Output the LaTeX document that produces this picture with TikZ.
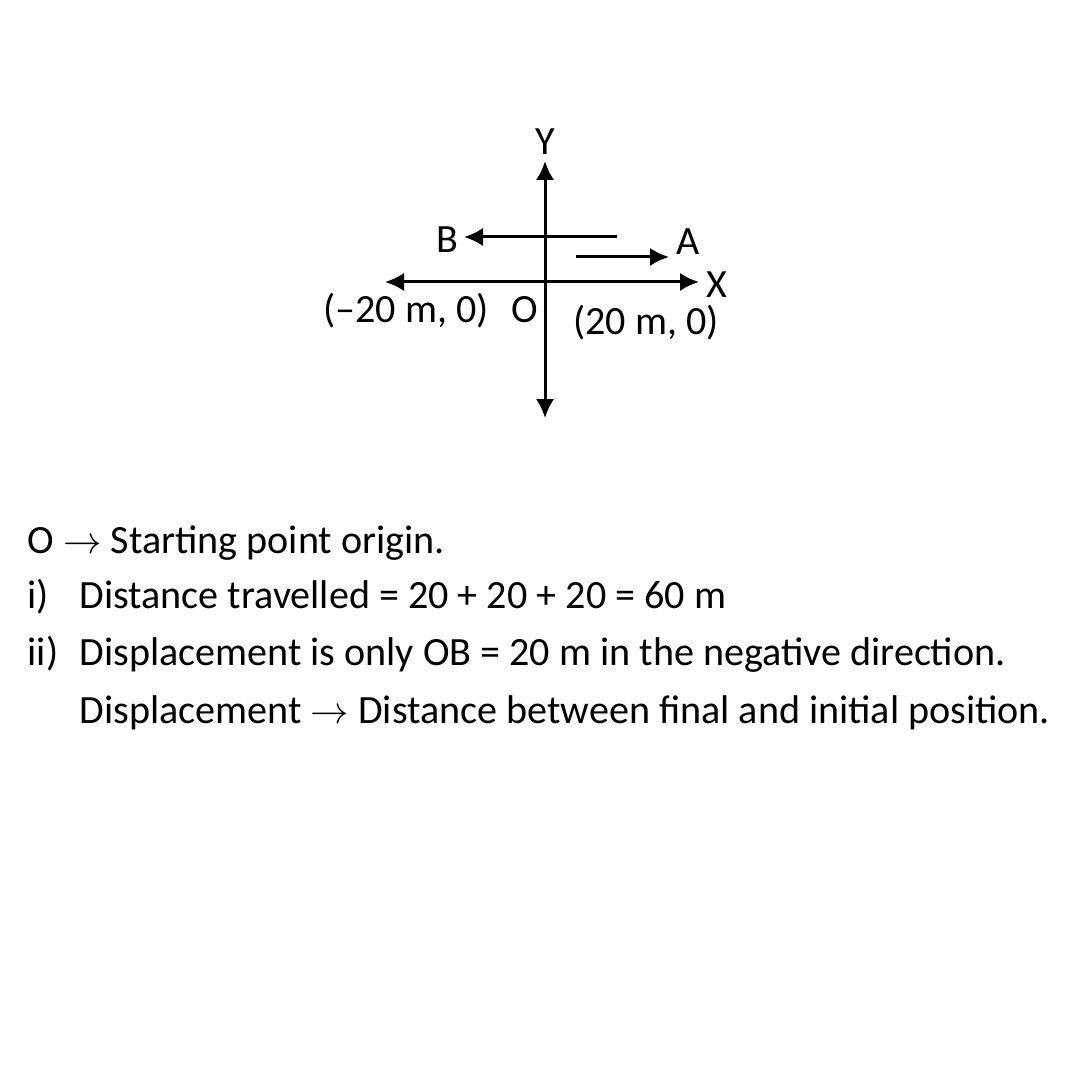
\documentclass[tikz,border=0pt]{standalone}
\usepackage{fontspec}
\setmainfont{Carlito}
\usetikzlibrary{arrows.meta}

\begin{document}
\begin{tikzpicture}[x=0.01cm, y=-0.01cm,
      axis/.style={{Latex[length=5.4pt, width=5.2pt]}-{Latex[length=5.4pt, width=5.2pt]}, line width=0.85pt, black},
      move/.style={-{Latex[length=5.4pt, width=5.2pt]}, line width=0.85pt, black},
      lbl/.style={inner sep=0pt, anchor=base, font=\fontsize{11.4pt}{13pt}\selectfont},
      txt/.style={inner sep=0pt, anchor=base west, font=\fontsize{11.4pt}{13pt}\selectfont},
    ]
    \useasboundingbox[fill=white] (0,0) rectangle (1080,1080);

    % axes
    \coordinate (ytop) at (545,161);
    \coordinate (ybot) at (545,418);
    \coordinate (xleft) at (385,282);
    \coordinate (xright) at (699,282);
    \draw[axis] (ytop) -- (ybot);
    \draw[axis] (xleft) -- (xright);
    \node[lbl] (ylab) at (545,155) {Y};
    \node[lbl] (xlab) at (717,298) {X};

    % path of the walker
    \coordinate (bstart) at (617,237);
    \coordinate (bend) at (464,237);
    \coordinate (astart) at (576,257);
    \coordinate (aend) at (669,257);
    \draw[move] (bstart) -- (bend);
    \draw[move] (astart) -- (aend);
    \node[lbl] (blab) at (447,253) {B};
    \node[lbl] (alab) at (688,255) {A};

    \node[lbl] (neg) at (406,323) {(–20 m, 0)};
    \node[lbl] (orig) at (525,323) {O};
    \node[lbl] (pos) at (646,335) {(20 m, 0)};

    % notes
    \node[txt] (l1) at (27,553) {O $\rightarrow$ Starting point origin.};
    \node[txt] (l2) at (27,608) {i)};
    \node[txt] (l2t) at (79,608) {Distance travelled = 20 + 20 + 20 = 60 m};
    \node[txt] (l3) at (27,665) {ii)};
    \node[txt] (l3t) at (79,665) {Displacement is only OB = 20 m in the negative direction.};
    \node[txt] (l4t) at (79,723) {Displacement $\rightarrow$ Distance between final and initial position.};
  \end{tikzpicture}
\end{document}
